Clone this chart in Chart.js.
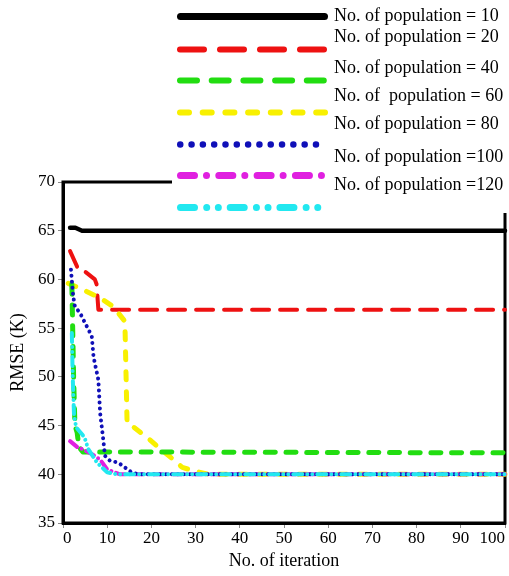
<!DOCTYPE html>
<html>
<head>
<meta charset="utf-8">
<script src="https://cdn.jsdelivr.net/npm/chart.js@4/dist/chart.umd.min.js"></script>
<style>
html,body{margin:0;padding:0;background:#fff;}
#wrap{width:509px;height:576px;position:relative;}
</style>
</head>
<body>
<div id="wrap"><canvas id="c" width="509" height="576"></canvas></div>
<script>
// ---- data ----
const xTicks = [0, 10, 20, 30, 40, 50, 60, 70, 80, 90, 100];
const yTicks = [35, 40, 45, 50, 55, 60, 65, 70];

const labels = [
  "No. of population = 10",
  "No. of population = 20",
  "No. of population = 40",
  "No. of  population = 60",
  "No. of population = 80",
  "No. of population =100",
  "No. of population =120"
];

const pop10Iter = [1.6, 2.8, 4.3, 100];
const pop10Rmse = [65.3, 65.3, 65.0, 65.0];

const pop20Iter = [1.6, 3.5, 5.0, 7.2, 7.6, 8.0, 100];
const pop20Rmse = [62.9, 61.0, 60.8, 60.0, 59.5, 56.9, 56.9];

const pop40Iter = [2.0, 2.4, 2.7, 3.2, 3.6, 4.5, 100];
const pop40Rmse = [59.5, 50.0, 45.0, 44.3, 42.8, 42.3, 42.2];

const pop60Iter = [1.2, 3.8, 8.4, 11.4, 14.0, 14.5, 15.5, 19, 22, 25, 27, 30, 33, 100];
const pop60Rmse = [59.6, 59.1, 58.1, 57.2, 55.7, 45.2, 45.0, 43.8, 42.6, 41.5, 40.7, 40.3, 40.0, 40.0];

const pop80Iter = [1.8, 2.3, 2.7, 3.8, 5.7, 6.5, 6.9, 7.2, 8.0, 8.4, 9.1, 9.5, 10.6, 12.5, 14.0, 15.5, 17, 100];
const pop80Rmse = [61.0, 58.3, 57.2, 56.6, 54.9, 54.2, 52.1, 51.4, 49.7, 46.3, 43.6, 41.9, 41.4, 41.2, 40.7, 40.2, 40.0, 40.0];

const pop100Iter = [1.6, 3.2, 4.3, 6.8, 8.4, 10, 12.9, 100];
const pop100Rmse = [43.4, 42.8, 42.6, 42.0, 41.5, 40.5, 40.0, 40.0];

const pop120Iter = [2.0, 2.2, 2.5, 3.0, 4.5, 5.0, 5.7, 7.7, 10, 12.2, 100];
const pop120Rmse = [54.5, 50.0, 46.0, 44.8, 44.0, 43.6, 42.6, 41.2, 40.2, 40.0, 40.0];

// ---- build ----
function pts(xs, ys){ return xs.map((x,i)=>({x:x, y:ys[i]})); }

const FONT = "'Liberation Serif', 'Times New Roman', serif";

const series = [
  {iter: pop10Iter, rmse: pop10Rmse, color:'#000000', width:4.5, dash:[], legendDash:[], legendWidth:7},
  {iter: pop20Iter, rmse: pop20Rmse, color:'#ee1111', width:4, dash:[17,11], legendDash:[24,16], legendWidth:6},
  {iter: pop40Iter, rmse: pop40Rmse, color:'#22dd11', width:5, dash:[10,10.7], legendDash:[17,14.7], legendWidth:6},
  {iter: pop60Iter, rmse: pop60Rmse, color:'#f8f000', width:5, dash:[8,12], legendDash:[9,13.7], legendWidth:6},
  {iter: pop80Iter, rmse: pop80Rmse, color:'#1010b8', width:4, dash:[0.01,6], legendDash:[0.01,11.3], legendWidth:6.5},
  {iter: pop100Iter, rmse: pop100Rmse, color:'#e020e0', width:4, dash:[9,5,0.01,5], legendDash:[14,12,0.01,12.3], legendWidth:7},
  {iter: pop120Iter, rmse: pop120Rmse, color:'#22e8f0', width:4, dash:[9,5,0.01,5,0.01,5], legendDash:[14,12.2,0.01,11.6,0.01,11.9], legendWidth:7}
];

const drawOrder = [6, 5, 3, 4, 1, 2, 0]; // lower = drawn on top

const datasets = series.map((s,i)=>({
  label: labels[i],
  data: pts(s.iter, s.rmse),
  borderColor: s.color,
  backgroundColor: s.color,
  borderWidth: s.width,
  borderDash: s.dash,
  borderCapStyle: 'round',
  borderJoinStyle: 'round',
  pointRadius: 0,
  tension: 0,
  fill: false,
  clip: false,
  order: drawOrder[i],
  legendDash: s.legendDash,
  legendWidth: s.legendWidth
}));

const framePlugin = {
  id: 'frame',
  beforeDatasetsDraw(chart){
    const {ctx, chartArea:a} = chart;
    ctx.save();
    ctx.strokeStyle = '#000';
    ctx.lineWidth = 3;
    ctx.strokeRect(a.left, a.top, a.right - a.left, a.bottom - a.top);
    ctx.restore();
  }
};

const legendPlugin = {
  id: 'customLegend',
  afterDraw(chart){
    const ctx = chart.ctx;
    const sampleY = [16, 49, 80, 112, 144, 175, 207];
    const textY = [16, 37, 68, 96, 124, 157, 185];
    const x0 = 177, x1 = 328;
    ctx.save();
    ctx.fillStyle = '#fff';
    ctx.fillRect(172, 0, 337, 213);
    chart.data.datasets.forEach((ds,i)=>{
      ctx.beginPath();
      ctx.strokeStyle = ds.borderColor;
      ctx.lineWidth = ds.legendWidth;
      ctx.lineCap = 'round';
      ctx.setLineDash(ds.legendDash);
      const y = sampleY[i] + 0.5;
      ctx.moveTo(x0 + ds.legendWidth/2, y);
      ctx.lineTo(i === 6 ? 320 : x1 - ds.legendWidth/2, y);
      ctx.stroke();
    });
    ctx.setLineDash([]);
    ctx.fillStyle = '#000';
    ctx.font = "18px " + FONT;
    ctx.textBaseline = 'middle';
    ctx.textAlign = 'left';
    chart.data.datasets.forEach((ds,i)=>{
      ctx.fillText(ds.label, 334, textY[i]);
    });
    ctx.restore();
  }
};

new Chart(document.getElementById('c'), {
  type: 'line',
  data: { datasets },
  options: {
    responsive: false,
    animation: false,
    devicePixelRatio: 1,
    layout: { padding: { top: 182, right: 4, left: 0, bottom: 0 } },
    plugins: { legend: { display: false }, tooltip: { enabled: false } },
    scales: {
      x: {
        type: 'linear',
        min: 0, max: 100,
        afterBuildTicks(scale){ scale.ticks = xTicks.map(v=>({value:v})); },
        afterFit(scale){ scale.height = 53; scale.paddingRight = 0; scale.paddingLeft = 0; },
        grid: { drawOnChartArea: false, drawTicks: true, tickLength: 5, color: '#888', lineWidth: 1 },
        border: { display: true, color: '#000', width: 3 },
        ticks: { color: '#000', font: { family: FONT, size: 17 }, padding: 0, maxRotation: 0, autoSkip: false, align: 'inner' },
        title: { display: true, text: 'No. of iteration', color: '#000', font: { family: FONT, size: 18 }, padding: { top: 0, bottom: 4 } }
      },
      y: {
        type: 'linear',
        min: 35, max: 70,
        afterBuildTicks(scale){ scale.ticks = yTicks.map(v=>({value:v})); },
        afterFit(scale){ scale.width = 63; },
        grid: { drawOnChartArea: false, drawTicks: true, tickLength: 5, color: '#888', lineWidth: 1 },
        border: { display: true, color: '#000', width: 3 },
        ticks: { color: '#000', font: { family: FONT, size: 17 }, padding: 3, autoSkip: false },
        title: { display: true, text: 'RMSE (K)', color: '#000', font: { family: FONT, size: 18 }, padding: { top: 7, bottom: 0 } }
      }
    }
  },
  plugins: [framePlugin, legendPlugin]
});
</script>
</body>
</html>
